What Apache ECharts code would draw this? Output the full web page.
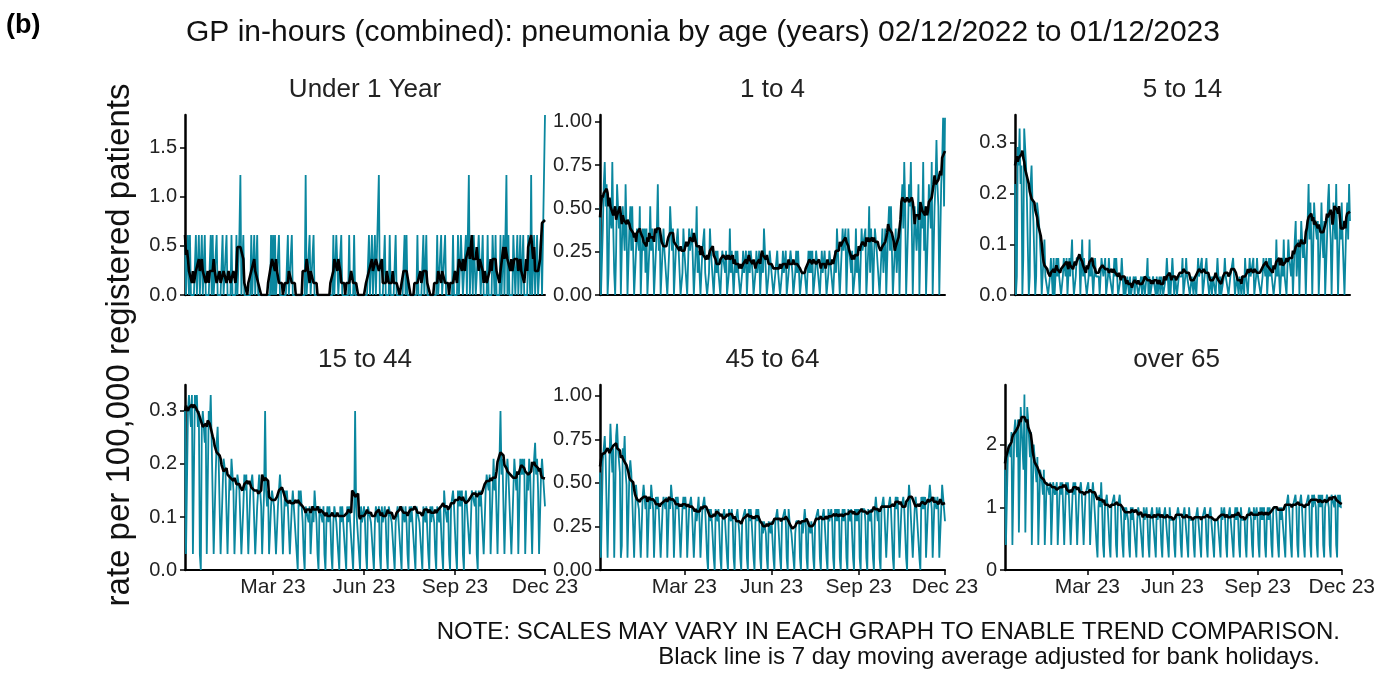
<!DOCTYPE html>
<html><head><meta charset="utf-8">
<script src="https://cdn.jsdelivr.net/npm/echarts@6/dist/echarts.min.js"></script>
<style>html,body{margin:0;background:#fff}#c{width:1378px;height:675px}</style>
</head><body><div id="c"></div>
<script>
// daily counts per panel, one char per day (base 36), weeks start on Friday
var startDate = '2022-12-02';
var panelNames = ['Under 1 Year', '1 to 4', '5 to 14', '15 to 44', '45 to 64', 'over 65'];
var units = [0.61, 0.128, 0.0365, 0.03, 0.07, 0.2];
var under1 = ["1001010","0000100","1001001","0000010","1000100","0001000","1000010","0001001",
  "2001000","0000100","1001000","0000000","0001010","1000100","0000001","0001000",
  "0000000","0002000","1000100","0000000","0000000","0001001","1000100","0000010",
  "0001000","0000000","0000100","1001000","2000001","0000100","0001000","0000010",
  "1000000","0000100","0001001","0000000","0001000","1000100","0000010","0001001",
  "1000100","2001011","0001100","1000010","0001101","0000100","1002010","0001100",
  "1001001","0000110","2001001","0001011","3"];
var age1to4 = ["4003564","5014436","3102543","4004325",
  "3003424","2012332","4003231","3002423","2002352",
  "3002322","2012432","3002232","2001322",
  "2003223","3002412","2002231","1001322","2002121",
  "1002221","2001312","1002121","1001211",
  "2002122","1001211","2002132","1001221","1001121",
  "1001211","2001122","1001212","1001111",
  "1002121","2001221","1002112","1001221",
  "1002132","2002322","3003221","2001312",
  "2003222","3002413","2003322","2002312",
  "3003424","2002312","3004536","4003546","3004423",
  "5004362","4003543","6004575","4005684","8"];
var age5to14 = ["6018796","7029875","5016754","4015543",
  "2002311","1001210","2002121","1001221","2002113",
  "1001222","2003121","1001312","2002111",
  "1002211","2001211","1002121","0001210","1001101",
  "0001011","1000101","1001201","0001110",
  "1001011","0001210","1002101","1001111","2001211",
  "1001101","1002111","2001121","1001011",
  "1002101","0001211","1001112","2001101",
  "1001021","1002111","2001211","1001221",
  "2002121","1001312","2002131","1003221",
  "2003412","3004323","2004635","3005443","4003532",
  "4003564","3005436","6004353","3004536","4"];
var age15to44 = ["a11aba9","b11bab9","a109a98","911a9b8",
  "8116897","7115776","6116576","5115665","5114656",
  "6115565","5114565","4115a54","5114554",
  "4114565","5115454","4114544","4105454","3104443",
  "4114354","3104443","4103434","3103443",
  "3104343","3104344","4103a43","3104334","3104443",
  "3103443","4104334","3104443","3103344",
  "4104434","3104344","4104443","3104434",
  "4104344","3104434","4105443","4104454",
  "4105454","5104544","4115554","5105455",
  "5115665","6115756","6117a67","7116766","6115765",
  "6117676","7116576","6117867","5116775","4"];
var age45to64 = ["8119ab9","9119ca8","a11bca9","812a9b8",
  "7118986","6117665","5116765","6116576","5116565",
  "5115665","6116576","5116565","5115656",
  "5115565","5115456","4115565","5105454","4105545",
  "5104454","4105545","4104454","3104445",
  "4105454","4104545","4104344","3104434","4104454",
  "4104445","4105443","3103444","4104345",
  "4104434","3104445","4104454","4105445",
  "4105454","5104545","4105545","5105454",
  "5105555","4105545","5105654","5105565",
  "5115565","5105656","6115565","5105766","6115655",
  "5106565","6115576","5116656","5115765","4"];
var over65 = ["8229aa9","b22bcb9","c33ddd8","e33dcc9",
  "b22a987","9228876","8227776","7227766","7226767",
  "7227676","6226767","7226676","6226667",
  "6226766","6215657","5215565","5215556","5215565",
  "5215455","4215455","5214554","4215445",
  "4214454","4215445","4214454","4215444","4214455",
  "4214454","4215444","4214454","4214445",
  "4214454","4214444","4215445","4214454",
  "4214545","4215444","4214455","4215445",
  "4215454","5214545","4215555","5215455",
  "5215565","5215556","5215565","5215556","5216566",
  "5216565","6215566","5216665","6216565","5"];
var yMax = [1.83, 1.04, 0.355, 0.349, 1.063, 2.95];
var yStep = [0.5, 0.25, 0.1, 0.1, 0.25, 1];
var yDigits = [1, 2, 1, 1, 2, 0];
var xTicks = ['2023-03-01', '2023-06-01', '2023-09-01', '2023-12-01'];
var xTickLabels = ['Mar 23', 'Jun 23', 'Sep 23', 'Dec 23'];

var raw = [under1, age1to4, age5to14, age15to44, age45to64, over65];
var dates = [], weekend = [];
var d0 = new Date(startDate + 'T00:00:00Z');
for (var i = 0; i < 365; i++) {
  var d = new Date(d0.getTime() + i * 86400000);
  dates.push(d.toISOString().slice(0, 10));
  weekend.push(d.getUTCDay() === 0 || d.getUTCDay() === 6);
}
function decode(arr, u) {
  return arr.join('').split('').map(function (c) { return +(parseInt(c, 36) * u).toFixed(4); });
}
// 7 day centred average of working days only
function movAvg(v) {
  return v.map(function (x, i) {
    var s = 0, n = 0;
    for (var k = i - 3; k <= i + 3; k++) if (k >= 0 && k < v.length && !weekend[k]) { s += v[k]; n++; }
    return +(s / n).toFixed(4);
  });
}
var grids = [
  {left: 185, right: 833, top: 115, bottom: 380},
  {left: 600, right: 433, top: 115, bottom: 380},
  {left: 1015, right: 28, top: 115, bottom: 380},
  {left: 185, right: 833, top: 385, bottom: 105},
  {left: 600, right: 433, top: 385, bottom: 105},
  {left: 1005, right: 30, top: 385, bottom: 105}
];
var font = 'Liberation Sans, Arial, sans-serif';
var texts = [
  {type: 'text', x: 6, y: 12, style: {text: '(b)', fontSize: 27, fontWeight: 'bold', fill: '#000', fontFamily: font}},
  {type: 'text', x: 703, y: 33, style: {text: 'GP in-hours (combined): pneumonia by age (years) 02/12/2022 to 01/12/2023',
    fontSize: 30, fill: '#111', fontFamily: font, align: 'center', verticalAlign: 'middle'}},
  {type: 'text', x: 120, y: 345, rotation: Math.PI / 2,
    style: {text: 'rate per 100,000 registered patients', fontSize: 33, fill: '#111', fontFamily: font, align: 'center', verticalAlign: 'middle'}},
  {type: 'text', x: 1340, y: 632, style: {text: 'NOTE: SCALES MAY VARY IN EACH GRAPH TO ENABLE TREND COMPARISON.',
    fontSize: 24, fill: '#111', fontFamily: font, align: 'right', verticalAlign: 'middle'}},
  {type: 'text', x: 1320, y: 657, style: {text: 'Black line is 7 day moving average adjusted for bank holidays.',
    fontSize: 24, fill: '#111', fontFamily: font, align: 'right', verticalAlign: 'middle'}}
];
var xAxes = [], yAxes = [], series = [];
raw.forEach(function (arr, p) {
  var g = grids[p];
  var cx = g.left + (1378 - g.right - g.left) / 2;
  texts.push({type: 'text', x: cx, y: g.top - 25, style: {text: panelNames[p], fontSize: 26, fill: '#222',
    fontFamily: font, align: 'center', verticalAlign: 'middle'}});
  xAxes.push({type: 'category', gridIndex: p, data: dates, boundaryGap: false,
    axisLine: {show: true, lineStyle: {color: '#000', width: 2}},
    axisTick: {show: p >= 3, length: 5, lineStyle: {color: '#000', width: 1.5},
      interval: function (i, v) { return xTicks.indexOf(v) >= 0; }},
    axisLabel: {show: p >= 3, fontSize: 21, color: '#222', fontFamily: font, margin: 7,
      interval: function (i, v) { return xTicks.indexOf(v) >= 0; },
      formatter: function (v) { return xTickLabels[xTicks.indexOf(v)]; }},
    splitLine: {show: false}});
  yAxes.push({type: 'value', gridIndex: p, min: 0, max: yMax[p], interval: yStep[p],
    axisLine: {show: true, lineStyle: {color: '#000', width: 2.5}},
    axisTick: {show: true, length: 5, lineStyle: {color: '#000', width: 1.5}},
    axisLabel: {fontSize: 20, color: '#222', fontFamily: font, showMaxLabel: false, margin: 8,
      formatter: function (v) { return v.toFixed(yDigits[p]); }},
    splitLine: {show: false}});
  var vals = decode(arr, units[p]);
  series.push({type: 'line', xAxisIndex: p, yAxisIndex: p, data: vals, showSymbol: false,
    lineStyle: {color: '#0a879f', width: 1.8}, z: 2});
  series.push({type: 'line', xAxisIndex: p, yAxisIndex: p, data: movAvg(vals), showSymbol: false,
    lineStyle: {color: '#000', width: 2.6}, z: 3});
});
var chart = echarts.init(document.getElementById('c'));
chart.setOption({
  animation: false,
  textStyle: {fontFamily: font},
  graphic: texts,
  grid: grids,
  xAxis: xAxes,
  yAxis: yAxes,
  series: series
});
</script></body></html>
